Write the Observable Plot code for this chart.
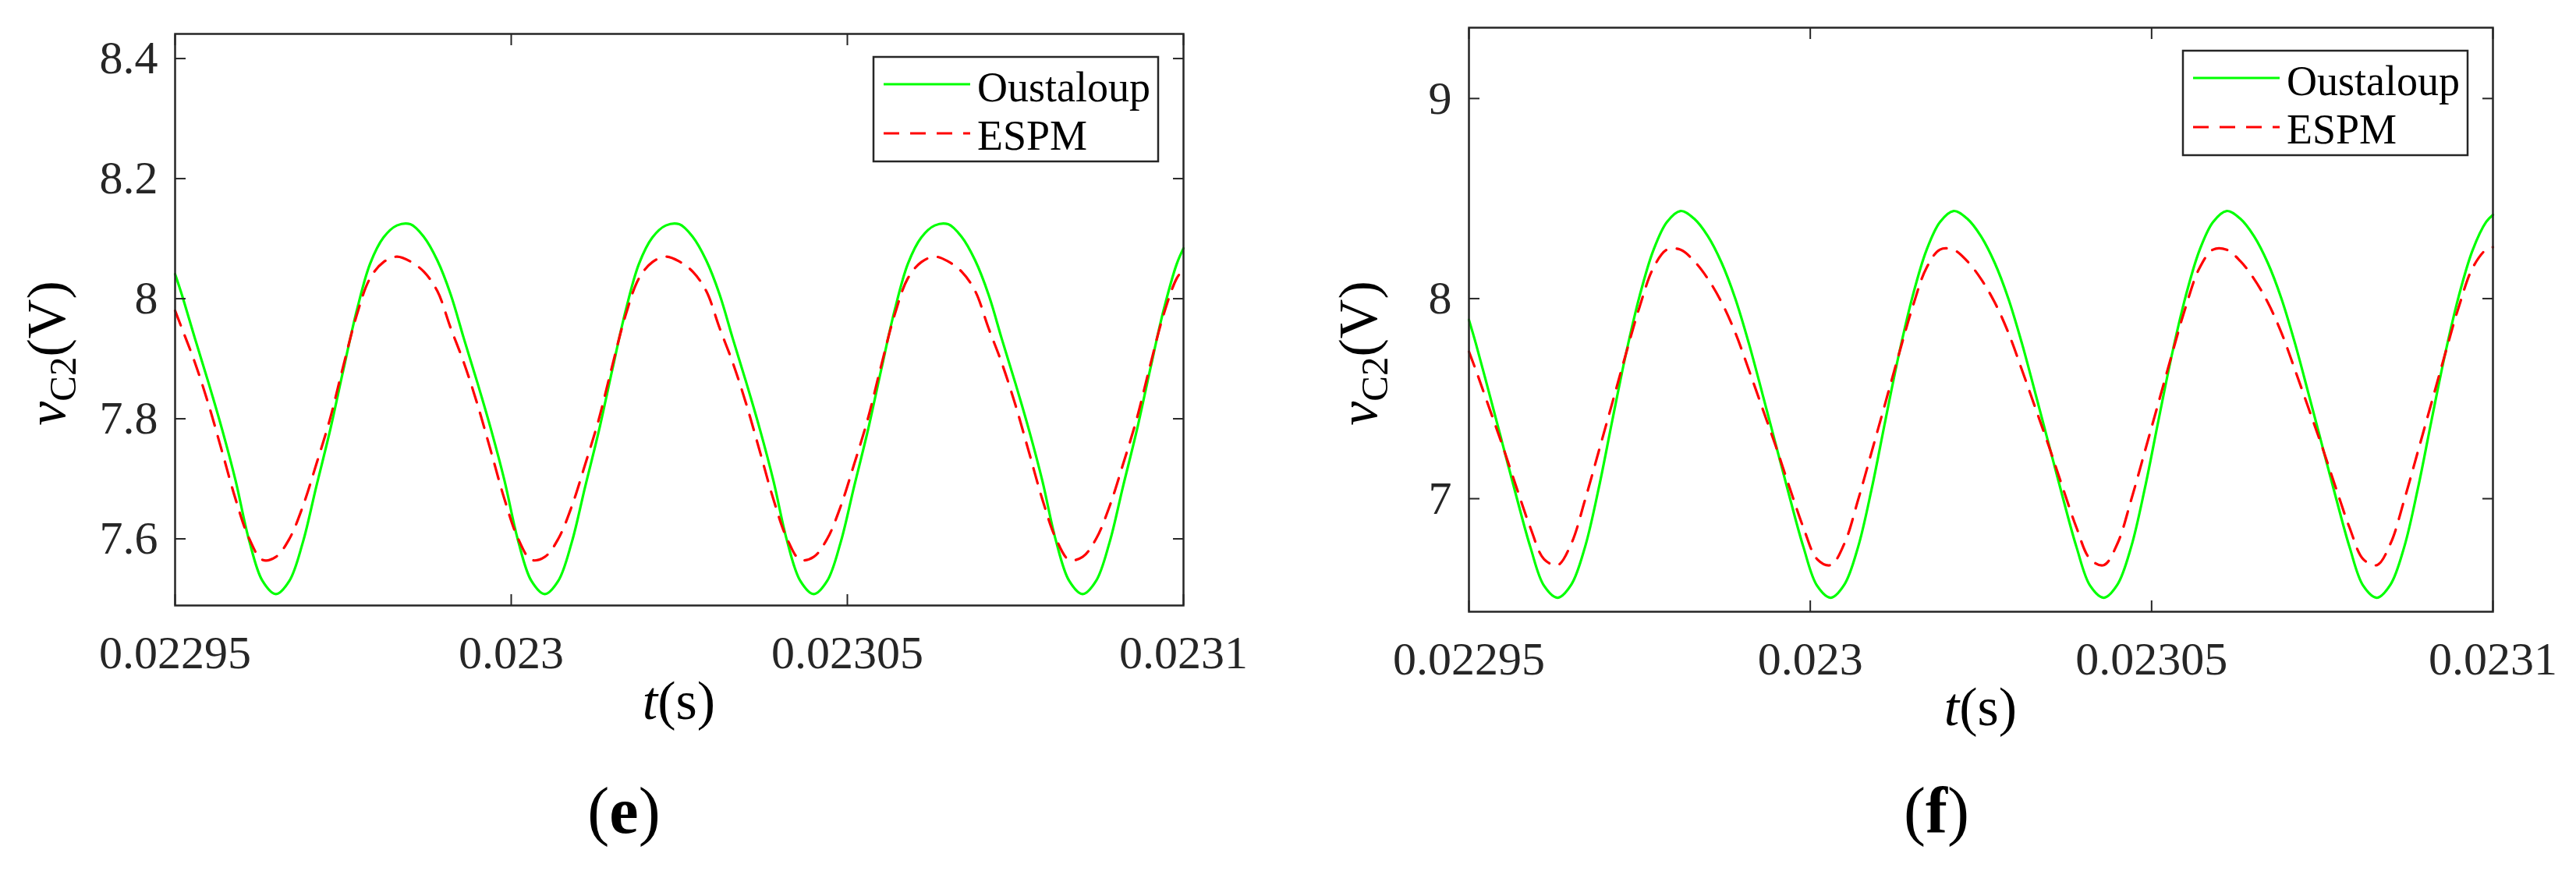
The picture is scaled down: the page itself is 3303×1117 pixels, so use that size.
<!DOCTYPE html>
<html>
<head>
<meta charset="utf-8">
<script src="https://cdn.jsdelivr.net/npm/d3@7"></script>
<script src="https://cdn.jsdelivr.net/npm/@observablehq/plot@0.6"></script>
<style>
  body { margin: 0; background: #fff; }
  #wrap { position: relative; width: 3303px; height: 1117px; overflow: hidden; }
  .panel { position: absolute; top: 0; }
  .cap { position: absolute; font-family: "Liberation Serif", serif; font-size: 84px; line-height: 84px;
         color: #000; transform: translateX(-50%); white-space: nowrap; }
</style>
</head>
<body>
<div id="wrap">
  <div id="chart-e" class="panel" style="left:0px"></div>
  <div id="chart-f" class="panel" style="left:1650px"></div>
  <div class="cap" style="left:800px; top:998px">(<b>e</b>)</div>
  <div class="cap" style="left:2483px; top:998px">(<b>f</b>)</div>
</div>
<script>
// time, in µs after 0.02295 s
const tOffsetUs = [0,
  1, 3, 5, 7, 9, 11, 13, 15, 17, 19, 21, 23, 25, 27, 29, 31, 33, 35, 37, 39,
  41, 43, 45, 47, 49, 51, 53, 55, 57, 59, 61, 63, 65, 67, 69, 71, 73, 75, 77, 79,
  81, 83, 85, 87, 89, 91, 93, 95, 97, 99, 101, 103, 105, 107, 109, 111, 113, 115, 117, 119,
  121, 123, 125, 127, 129, 131, 133, 135, 137, 139, 141, 143, 145, 147, 149,
  150]

const seriesNames = ['Oustaloup', 'ESPM']
const xTicks = [0.02295, 0.023, 0.02305, 0.0231]
const xTickLabels = ['0.02295', '0.023', '0.02305', '0.0231']

// panel (e)
const yTicksE = [7.6, 7.8, 8, 8.2, 8.4]
const yTickLabelsE = ['7.6', '7.8', '8', '8.2', '8.4']
const oustaloupE = [8.041,
  8.007, 7.932, 7.859, 7.782, 7.697, 7.598, 7.530, 7.508, 7.530, 7.594, 7.687, 7.778, 7.880, 7.979, 8.058, 8.102, 8.122, 8.124, 8.103, 8.064,
  8.007, 7.932, 7.859, 7.782, 7.697, 7.598, 7.530, 7.508, 7.530, 7.594, 7.687, 7.778, 7.880, 7.979, 8.058, 8.102, 8.122, 8.124, 8.103, 8.064,
  8.007, 7.932, 7.859, 7.782, 7.697, 7.598, 7.530, 7.508, 7.530, 7.594, 7.687, 7.778, 7.880, 7.979, 8.058, 8.102, 8.122, 8.124, 8.103, 8.064,
  8.007, 7.932, 7.859, 7.782, 7.697, 7.598, 7.530, 7.508, 7.530, 7.594, 7.687, 7.778, 7.880, 7.979, 8.058,
  8.084]
const espmE = [7.980,
  7.951, 7.892, 7.823, 7.745, 7.666, 7.601, 7.565, 7.570, 7.600, 7.654, 7.724, 7.798, 7.887, 7.972, 8.034, 8.061, 8.070, 8.062, 8.045, 8.013,
  7.951, 7.892, 7.823, 7.745, 7.666, 7.601, 7.565, 7.570, 7.600, 7.654, 7.724, 7.798, 7.887, 7.972, 8.034, 8.061, 8.070, 8.062, 8.045, 8.013,
  7.951, 7.892, 7.823, 7.745, 7.666, 7.601, 7.565, 7.570, 7.600, 7.654, 7.724, 7.798, 7.887, 7.972, 8.034, 8.061, 8.070, 8.062, 8.045, 8.013,
  7.951, 7.892, 7.823, 7.745, 7.666, 7.601, 7.565, 7.570, 7.600, 7.654, 7.724, 7.798, 7.887, 7.972, 8.034,
  8.049]

// panel (f)
const yTicksF = [7, 8, 9]
const yTickLabelsF = ['7', '8', '9']
const oustaloupF = [7.894,
  7.777, 7.523, 7.264, 7.005, 6.758, 6.565, 6.505, 6.571, 6.758, 7.050, 7.391, 7.724, 8.013, 8.240, 8.383, 8.438, 8.399, 8.312, 8.180, 8.002,
  7.777, 7.523, 7.264, 7.005, 6.758, 6.565, 6.505, 6.571, 6.758, 7.050, 7.391, 7.724, 8.013, 8.240, 8.383, 8.438, 8.399, 8.312, 8.180, 8.002,
  7.777, 7.523, 7.264, 7.005, 6.758, 6.565, 6.505, 6.571, 6.758, 7.050, 7.391, 7.724, 8.013, 8.240, 8.383, 8.438, 8.399, 8.312, 8.180, 8.002,
  7.777, 7.523, 7.264, 7.005, 6.758, 6.565, 6.505, 6.571, 6.758, 7.050, 7.391, 7.724, 8.013, 8.240, 8.383,
  8.419]
const espmF = [7.735,
  7.644, 7.451, 7.257, 7.053, 6.855, 6.698, 6.668, 6.776, 6.993, 7.235, 7.479, 7.724, 7.959, 8.152, 8.245, 8.244, 8.187, 8.099, 7.982, 7.831,
  7.644, 7.451, 7.257, 7.053, 6.855, 6.698, 6.668, 6.776, 6.993, 7.235, 7.479, 7.724, 7.959, 8.152, 8.245, 8.244, 8.187, 8.099, 7.982, 7.831,
  7.644, 7.451, 7.257, 7.053, 6.855, 6.698, 6.668, 6.776, 6.993, 7.235, 7.479, 7.724, 7.959, 8.152, 8.245, 8.244, 8.187, 8.099, 7.982, 7.831,
  7.644, 7.451, 7.257, 7.053, 6.855, 6.698, 6.668, 6.776, 6.993, 7.235, 7.479, 7.724, 7.959, 8.152, 8.245,
  8.257]

const axisColor = '#262626'
const serif = '"Liberation Serif", "Times New Roman", serif'
const dashPattern = '20,14'

function toRows(values) {
  return tOffsetUs.map((u, i) => ({t: 0.02295 + u * 1e-6, v: values[i]}))
}

function drawPanel(sel, cfg) {
  const tickOpts = {tickSize: 14, fill: 'none', label: null, stroke: axisColor, strokeWidth: 2}
  let chart = Plot.plot({
    width: cfg.width,
    height: 960,
    marginLeft: cfg.marginLeft,
    marginRight: cfg.marginRight,
    marginTop: cfg.marginTop,
    marginBottom: cfg.marginBottom,
    style: {fontFamily: serif, background: 'white'},
    x: {domain: [0.02295, 0.0231]},
    y: {domain: cfg.yDomain},
    marks: [
      Plot.line(toRows(cfg.oust), {x: 't', y: 'v', stroke: '#00ff00', strokeWidth: 3.2, curve: 'catmull-rom'}),
      Plot.line(toRows(cfg.espm), {x: 't', y: 'v', stroke: '#ff0000', strokeWidth: 3.2,
        strokeDasharray: dashPattern, curve: 'catmull-rom'}),
      // inward ticks on all four sides
      Plot.axisX(xTicks, {...tickOpts, anchor: 'bottom', dy: -14}),
      Plot.axisX(xTicks, {...tickOpts, anchor: 'top', dy: 14}),
      Plot.axisY(cfg.yTicks, {...tickOpts, anchor: 'left', dx: 14}),
      Plot.axisY(cfg.yTicks, {...tickOpts, anchor: 'right', dx: -14}),
      Plot.axisX(xTicks, {
        anchor: 'bottom', tickSize: 0, tickPadding: 38, label: null, fontSize: 60, fill: axisColor,
        tickFormat: d => xTickLabels[xTicks.indexOf(d)]
      }),
      Plot.axisY(cfg.yTicks, {
        anchor: 'left', tickSize: 0, tickPadding: 22, label: null, fontSize: 60, fill: axisColor,
        tickFormat: d => cfg.yTickLabels[cfg.yTicks.indexOf(d)]
      }),
      Plot.frame({stroke: axisColor, strokeWidth: 2.5})
    ]
  })

  const svg = d3.select(chart)
  const [x0, x1] = chart.scale('x').range
  const [yb, yt] = chart.scale('y').range

  // y label: v_C2(V)
  const yl = svg.append('text')
    .attr('transform', `translate(${cfg.yLabelX},${cfg.yLabelY}) rotate(-90)`)
    .attr('text-anchor', 'middle')
    .attr('font-family', serif).attr('font-size', 70).attr('fill', '#000')
  yl.append('tspan').attr('font-style', 'italic').text('v')
  yl.append('tspan').attr('font-size', 49).attr('dy', 14).text('C2')
  yl.append('tspan').attr('dy', -14).text('(V)')

  // x label: t(s)
  const xl = svg.append('text')
    .attr('x', (x0 + x1) / 2).attr('y', yb + 146)
    .attr('text-anchor', 'middle')
    .attr('font-family', serif).attr('font-size', 70).attr('fill', '#000')
  xl.append('tspan').attr('font-style', 'italic').text('t')
  xl.append('tspan').text('(s)')

  // legend box
  const lw = 365, lh = 134
  const lx = x1 - 32 - lw, ly = yt + 30
  const lg = svg.append('g').attr('font-family', serif).attr('font-size', 54)
  lg.append('rect').attr('x', lx).attr('y', ly).attr('width', lw).attr('height', lh)
    .attr('fill', 'white').attr('stroke', axisColor).attr('stroke-width', 2.5)
  const legendStyles = [
    {stroke: '#00ff00', dash: null, lineY: 35, textY: 57},
    {stroke: '#ff0000', dash: dashPattern, lineY: 98, textY: 119}
  ]
  seriesNames.forEach((name, i) => {
    const s = legendStyles[i]
    lg.append('line')
      .attr('x1', lx + 13).attr('x2', lx + 124)
      .attr('y1', ly + s.lineY).attr('y2', ly + s.lineY)
      .attr('stroke', s.stroke).attr('stroke-width', 3.2)
      .attr('stroke-dasharray', s.dash)
    lg.append('text').attr('x', lx + 133).attr('y', ly + s.textY)
      .attr('text-anchor', 'start')
      .attr('fill', '#000').text(name)
  })

  d3.select(sel).append(() => chart)
}

drawPanel('#chart-e', {
  width: 1650, marginLeft: 224, marginRight: 133, marginTop: 43, marginBottom: 184,
  yDomain: [7.489, 8.441], yTicks: yTicksE, yTickLabels: yTickLabelsE,
  oust: oustaloupE, espm: espmE, yLabelX: 83, yLabelY: 453
})
drawPanel('#chart-f', {
  width: 1653, marginLeft: 233, marginRight: 107, marginTop: 35, marginBottom: 176,
  yDomain: [6.435, 9.354], yTicks: yTicksF, yTickLabels: yTickLabelsF,
  oust: oustaloupF, espm: espmF, yLabelX: 115, yLabelY: 453
})
</script>
</body>
</html>
